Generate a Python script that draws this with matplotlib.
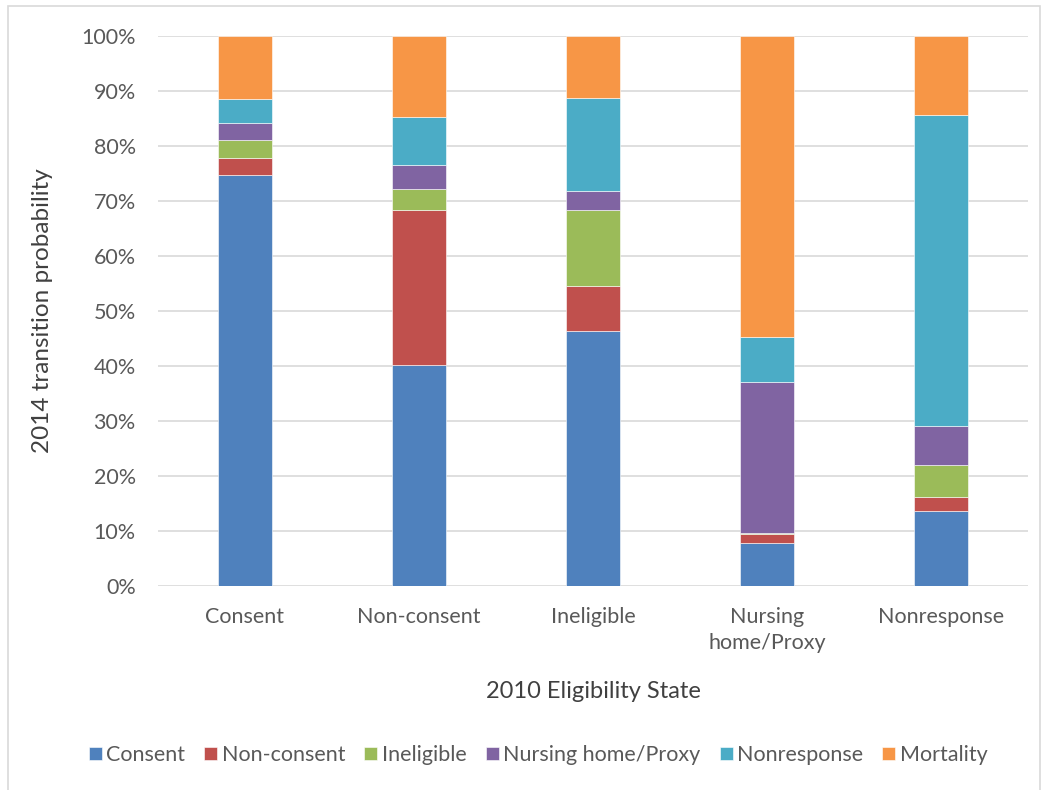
import matplotlib
matplotlib.use('Agg')
import matplotlib.pyplot as plt
from matplotlib.patches import Rectangle
import numpy as np

plt.rcParams['font.family'] = ['Lato', 'DejaVu Sans']

# 2010 state (x) -> 2014 state shares (%)
states_2010 = ['Consent', 'Non-consent', 'Ineligible', 'Nursing\nhome/Proxy', 'Nonresponse']
series_names = ['Consent', 'Non-consent', 'Ineligible', 'Nursing home/Proxy', 'Nonresponse', 'Mortality']
consent     = [74.8, 40.2, 46.4, 7.9, 13.7]
non_consent = [3.1, 28.2, 8.2, 1.5, 2.5]
ineligible  = [3.1, 3.7, 13.7, 0.3, 5.8]
nursing     = [3.1, 4.4, 3.6, 27.4, 7.1]
nonresponse = [4.4, 8.7, 16.9, 8.2, 56.5]
mortality   = [11.5, 14.8, 11.2, 54.7, 14.4]
colors = ['#4F81BD', '#C0504D', '#9BBB59', '#8064A2', '#4BACC6', '#F79646']

fig = plt.figure(figsize=(10.44, 7.9), dpi=100)
ax = fig.add_axes([158/1044, 1 - 586/790, (1028 - 158)/1044, (586 - 36)/790])

x = np.arange(len(states_2010))
bottom = np.zeros(len(states_2010))
for name, vals, c in zip(series_names,
                         [consent, non_consent, ineligible, nursing, nonresponse, mortality],
                         colors):
    v = np.array(vals) / 100.0
    ax.bar(x, v, width=0.31, bottom=bottom, color=c, edgecolor='white', linewidth=0.4,
           label=name, zorder=3)
    bottom += v

ax.set_xlim(-0.5, len(states_2010) - 0.5)
ax.set_ylim(0, 1)
ticks = np.arange(0, 1.01, 0.1)
ax.set_yticks(ticks)
ax.set_yticklabels([f'{int(round(t*100))}%' for t in ticks])
ax.set_xticks(x)
ax.set_xticklabels(states_2010, linespacing=1.4)
ax.tick_params(axis='both', length=0, labelsize=15.5, colors='#595959')
ax.tick_params(axis='x', pad=15)
ax.tick_params(axis='y', pad=16)
ax.grid(axis='y', color='#d9d9d9', lw=1.2, zorder=0)
for sp in ax.spines.values():
    sp.set_visible(False)

ax.set_ylabel('2014 transition probability', fontsize=17.5, color='#404040', labelpad=20)
ax.set_xlabel('2010 Eligibility State', fontsize=17, color='#404040', labelpad=20)

ax.legend(loc='center', bbox_to_anchor=(538/1044, 1 - 755/790), bbox_transform=fig.transFigure,
          ncol=6, frameon=False, fontsize=15.5, handlelength=0.6, handleheight=0.6,
          handletextpad=0.2, columnspacing=0.9, labelcolor='#595959')

# light chart-area border like the spreadsheet export
fig.patches.append(Rectangle((8/1044, -0.01), (1040 - 8)/1044, 1 - 6/790 + 0.01,
                             transform=fig.transFigure, fill=False, edgecolor='#d9d9d9', lw=1.2))

fig.savefig('out.png', dpi=100)
